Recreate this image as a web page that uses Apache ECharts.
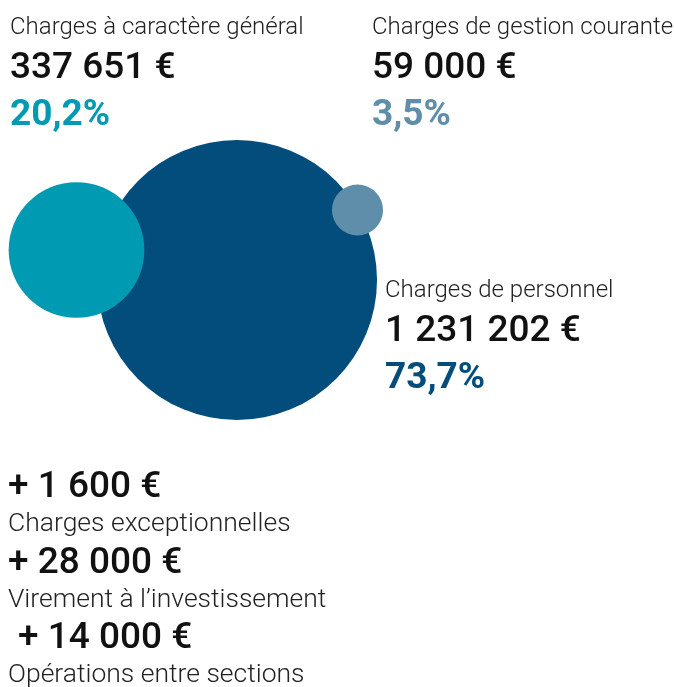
<!DOCTYPE html>
<html>
<head>
<meta charset="utf-8">
<script src="https://cdn.jsdelivr.net/npm/echarts@6/dist/echarts.min.js"></script>
<style>
  html, body { margin: 0; padding: 0; background: #fff; }
  #chart { width: 674px; height: 687px; }
</style>
</head>
<body>
<div id="chart"></div>
<script>
// main expense categories (bubbles)
const categories = ['Charges de personnel', 'Charges à caractère général', 'Charges de gestion courante'];
const amounts = [1231202, 337651, 59000];
const percents = ['73,7%', '20,2%', '3,5%'];
const colors = ['#024d7c', '#009bb3', '#5f8eab'];

// extra lines below the chart
const extraLabels = ['Charges exceptionnelles', 'Virement à l’investissement', 'Opérations entre sections'];
const extraAmounts = [1600, 28000, 14000];

// bubble centres (layout only, pixel coords of the canvas)
const centers = [[237, 280], [76.5, 250], [357.5, 210]];

const fmt = v => String(v).replace(/\B(?=(\d{3})+(?!\d))/g, ' ') + ' €';
const FONT = 'Roboto, "Noto Sans", sans-serif';
const LABEL_FONT = '300 24px ' + FONT;
const EXTRA_LABEL_FONT = '300 26.5px ' + FONT;
const VALUE_FONT = '500 37px ' + FONT;
const PCT_FONT = 'bold 37px ' + FONT;

const chart = echarts.init(document.getElementById('chart'));

// put text so that its baseline sits at y (text is bottom aligned)
function txt(x, baseline, text, font, fill, size) {
  return {
    type: 'text', x: x, y: baseline + Math.round(size * 0.24),
    style: { text: text, font: font, fill: fill, verticalAlign: 'bottom' },
  };
}

function block(x, b0, i) {
  return [
    txt(x, b0, categories[i], LABEL_FONT, '#222', 24),
    txt(x, b0 + 44, fmt(amounts[i]), VALUE_FONT, '#111', 37),
    txt(x, b0 + 91, percents[i], PCT_FONT, colors[i], 37),
  ];
}

const graphics = [].concat(
  block(10, 34, 1),
  block(372, 34, 2),
  block(385, 297, 0)
);

const extraBase = [497, 573, 648];
const extraX = [8, 8, 18];
extraLabels.forEach((lab, i) => {
  graphics.push(txt(extraX[i], extraBase[i], '+ ' + fmt(extraAmounts[i]), VALUE_FONT, '#111', 37));
  graphics.push(txt(8, extraBase[i] + 35, lab, EXTRA_LABEL_FONT, '#222', 26.5));
});

chart.setOption({
  animation: false,
  grid: { left: 0, right: 0, top: 0, bottom: 0 },
  xAxis: { type: 'value', min: 0, max: 674, show: false },
  yAxis: { type: 'value', min: 0, max: 687, inverse: true, show: false },
  series: [{
    type: 'scatter',
    symbol: 'circle',
    symbolSize: (val) => 0.1088 * Math.pow(val[2], 0.56),
    data: amounts.map((v, i) => ({
      name: categories[i],
      value: [centers[i][0], centers[i][1], v],
      itemStyle: { color: colors[i], opacity: 1 },
    })),
    emphasis: { disabled: true },
  }],
  graphic: graphics,
});
</script>
</body>
</html>
